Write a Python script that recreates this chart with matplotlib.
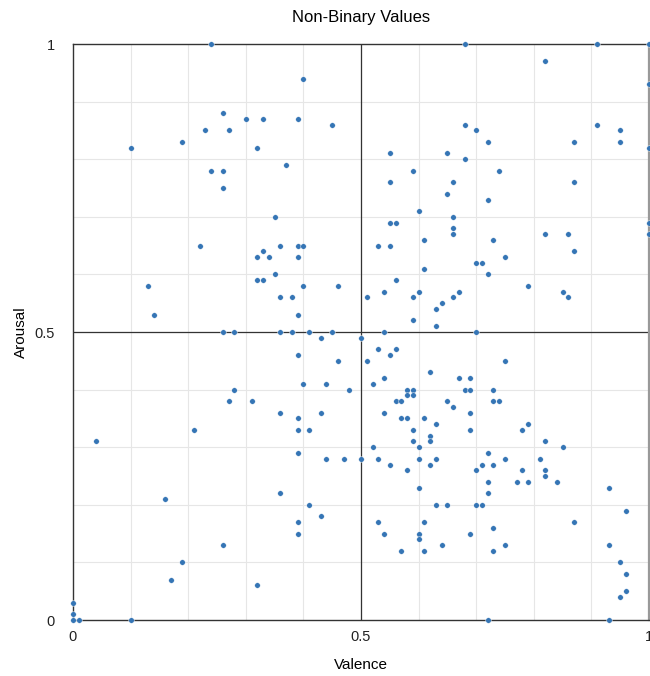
import numpy as np
from matplotlib import pyplot as plt

plt.rcParams['font.family'] = ['Liberation Sans', 'DejaVu Sans']

# valence / arousal pairs, rounded to two decimals
valence = [
    0.24, 0.68, 0.91, 1.00,
    0.40, 0.82, 1.00,
    0.26, 0.30, 0.33, 0.39, 0.45, 0.68, 0.91,
    0.23, 0.27, 0.70, 0.95,
    0.19, 0.72, 0.87, 0.95,
    0.10, 0.32, 1.00,
    0.55, 0.65,
    0.68,
    0.37,
    0.24, 0.26, 0.59, 0.74,
    0.55, 0.66, 0.87,
    0.26,
    0.65,
    0.72,
    0.60,
    0.35, 0.66,
    0.55, 0.56, 1.00,
    0.66,
    0.66, 0.82, 0.86, 1.00,
    0.61, 0.73,
    0.22, 0.36, 0.39, 0.40, 0.53, 0.55,
    0.33, 0.87,
    0.32, 0.34, 0.39, 0.75,
    0.70, 0.71,
    0.61,
    0.35, 0.72,
    0.32, 0.33, 0.56,
    0.13, 0.40, 0.46, 0.79,
    0.54, 0.60, 0.67, 0.85,
    0.36, 0.38, 0.51, 0.59, 0.66, 0.86,
    0.64,
    0.63,
    0.14, 0.39,
    0.59,
    0.63,
    0.26, 0.28, 0.36, 0.38, 0.41, 0.45, 0.54, 0.70,
    0.43, 0.50,
    0.53, 0.56,
    0.39, 0.55,
    0.46, 0.51, 0.75,
    0.62,
    0.54, 0.67, 0.69,
    0.40, 0.44, 0.52,
    0.28, 0.48, 0.58, 0.59, 0.68, 0.69, 0.73,
    0.58, 0.59,
    0.27, 0.31, 0.56, 0.57, 0.65, 0.73, 0.74,
    0.66,
    0.36, 0.43, 0.54, 0.69,
    0.39, 0.57, 0.58, 0.61,
    0.63, 0.79,
    0.21, 0.39, 0.41, 0.59, 0.69, 0.78,
    0.62,
    0.04, 0.59, 0.62, 0.82,
    0.52, 0.60, 0.85,
    0.39, 0.72,
    0.44, 0.47, 0.50, 0.53, 0.60, 0.63, 0.75, 0.81,
    0.55, 0.62, 0.71, 0.73,
    0.58, 0.70, 0.78, 0.82,
    0.82,
    0.72, 0.77, 0.79, 0.84,
    0.60, 0.93,
    0.36, 0.72,
    0.16,
    0.41, 0.63, 0.65, 0.70, 0.71,
    0.96,
    0.43,
    0.39, 0.53, 0.61, 0.87,
    0.73,
    0.39, 0.54, 0.60, 0.69,
    0.60,
    0.26, 0.64, 0.75, 0.93,
    0.57, 0.61, 0.73,
    0.19, 0.95,
    0.96,
    0.17,
    0.32,
    0.96,
    0.95,
    0.00,
    0.00,
    0.00, 0.01, 0.10, 0.72, 0.93,
]
arousal = [
    1.00, 1.00, 1.00, 1.00,
    0.94, 0.97, 0.93,
    0.88, 0.87, 0.87, 0.87, 0.86, 0.86, 0.86,
    0.85, 0.85, 0.85, 0.85,
    0.83, 0.83, 0.83, 0.83,
    0.82, 0.82, 0.82,
    0.81, 0.81,
    0.80,
    0.79,
    0.78, 0.78, 0.78, 0.78,
    0.76, 0.76, 0.76,
    0.75,
    0.74,
    0.73,
    0.71,
    0.70, 0.70,
    0.69, 0.69, 0.69,
    0.68,
    0.67, 0.67, 0.67, 0.67,
    0.66, 0.66,
    0.65, 0.65, 0.65, 0.65, 0.65, 0.65,
    0.64, 0.64,
    0.63, 0.63, 0.63, 0.63,
    0.62, 0.62,
    0.61,
    0.60, 0.60,
    0.59, 0.59, 0.59,
    0.58, 0.58, 0.58, 0.58,
    0.57, 0.57, 0.57, 0.57,
    0.56, 0.56, 0.56, 0.56, 0.56, 0.56,
    0.55,
    0.54,
    0.53, 0.53,
    0.52,
    0.51,
    0.50, 0.50, 0.50, 0.50, 0.50, 0.50, 0.50, 0.50,
    0.49, 0.49,
    0.47, 0.47,
    0.46, 0.46,
    0.45, 0.45, 0.45,
    0.43,
    0.42, 0.42, 0.42,
    0.41, 0.41, 0.41,
    0.40, 0.40, 0.40, 0.40, 0.40, 0.40, 0.40,
    0.39, 0.39,
    0.38, 0.38, 0.38, 0.38, 0.38, 0.38, 0.38,
    0.37,
    0.36, 0.36, 0.36, 0.36,
    0.35, 0.35, 0.35, 0.35,
    0.34, 0.34,
    0.33, 0.33, 0.33, 0.33, 0.33, 0.33,
    0.32,
    0.31, 0.31, 0.31, 0.31,
    0.30, 0.30, 0.30,
    0.29, 0.29,
    0.28, 0.28, 0.28, 0.28, 0.28, 0.28, 0.28, 0.28,
    0.27, 0.27, 0.27, 0.27,
    0.26, 0.26, 0.26, 0.26,
    0.25,
    0.24, 0.24, 0.24, 0.24,
    0.23, 0.23,
    0.22, 0.22,
    0.21,
    0.20, 0.20, 0.20, 0.20, 0.20,
    0.19,
    0.18,
    0.17, 0.17, 0.17, 0.17,
    0.16,
    0.15, 0.15, 0.15, 0.15,
    0.14,
    0.13, 0.13, 0.13, 0.13,
    0.12, 0.12, 0.12,
    0.10, 0.10,
    0.08,
    0.07,
    0.06,
    0.05,
    0.04,
    0.03,
    0.01,
    0.00, 0.00, 0.00, 0.00, 0.00,
]

tick_vals = [0, 0.5, 1]
tick_labels = ['0', '0.5', '1']


def main():
    fig = plt.figure(figsize=(6.5, 6.76), dpi=100)
    ax = fig.add_axes([0.1123, 0.0828, 0.8862, 0.8521])

    # light grid every 0.1, darker cross through the middle
    for g in np.arange(0.1, 1.0, 0.1):
        ax.axvline(g, color='#e6e6e6', lw=0.8, zorder=0)
        ax.axhline(g, color='#e6e6e6', lw=0.8, zorder=0)
    ax.axvline(0.5, color='#333333', lw=0.9, zorder=1)
    ax.axhline(0.5, color='#333333', lw=0.9, zorder=1)

    ax.scatter(valence, arousal, s=16, color='#3575b5', edgecolors='white',
               linewidths=0.3, zorder=3, clip_on=False)

    ax.set_xlim(0, 1)
    ax.set_ylim(0, 1)
    ax.set_xticks(tick_vals, tick_labels)
    ax.set_yticks(tick_vals, tick_labels)
    ax.tick_params(length=0, labelsize=10.5, colors='#222222')
    ax.tick_params(axis='x', pad=7)
    ax.tick_params(axis='y', pad=13)

    for side in ['left', 'bottom', 'top']:
        ax.spines[side].set_color('#333333')
        ax.spines[side].set_linewidth(1.0)
    ax.spines['right'].set_color('#999999')
    ax.spines['right'].set_linewidth(1.6)

    ax.set_title("Non-Binary Values", fontsize=12, pad=16)
    ax.set_xlabel("Valence", fontsize=11, labelpad=10)
    ax.set_ylabel("Arousal", fontsize=11, labelpad=5)

    fig.savefig('out.png', dpi=100)


if __name__ == "__main__":
    main()
